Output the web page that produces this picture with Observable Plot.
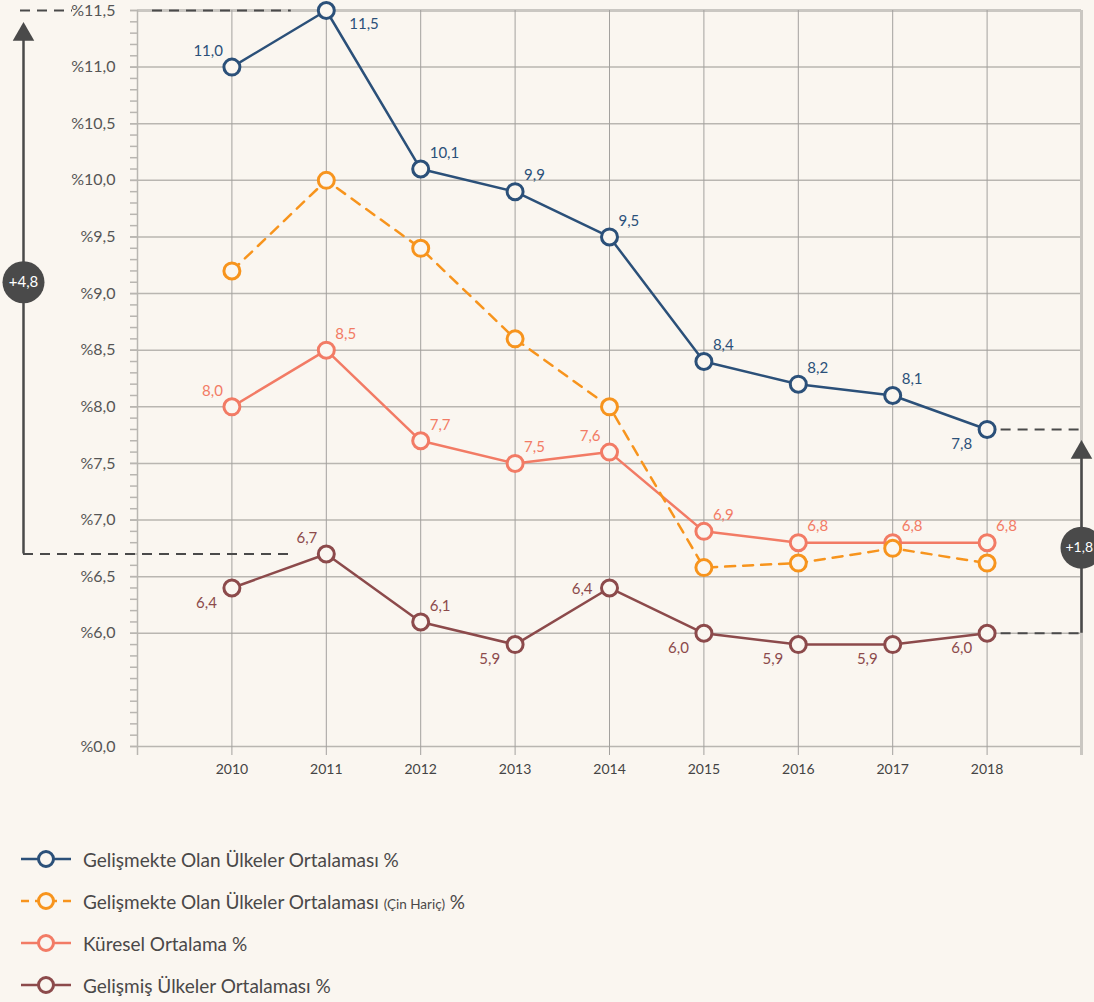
<!DOCTYPE html>
<html>
<head>
<meta charset="utf-8">
<script src="https://cdn.jsdelivr.net/npm/d3@7"></script>
<script src="https://cdn.jsdelivr.net/npm/@observablehq/plot@0.6"></script>
<style>
  html, body { margin: 0; padding: 0; background: #faf6f0; }
  body { width: 1094px; height: 1002px; overflow: hidden; font-family: Lato, "Open Sans", sans-serif; }
  #chart svg { display: block; background: #faf6f0; }
  #legend { margin-top: 48px; }
  .item { height: 42px; display: flex; align-items: center; }
  .item svg { margin-left: 20px; margin-right: 11px; flex: none; }
  .item span { font-size: 19px; color: #4a4848; }
  .item small { font-size: 13.5px; }
</style>
</head>
<body>
<div id="chart"></div>
<div id="legend"></div>
<script>
const years = [2010, 2011, 2012, 2013, 2014, 2015, 2016, 2017, 2018];
const developing        = [11.0, 11.5, 10.1, 9.9, 9.5, 8.4, 8.2, 8.1, 7.8];
const developingExChina = [9.2, 10.0, 9.4, 8.6, 8.0, 6.58, 6.62, 6.75, 6.62];
const globalAvg         = [8.0, 8.5, 7.7, 7.5, 7.6, 6.9, 6.8, 6.8, 6.8];
const developed         = [6.4, 6.7, 6.1, 5.9, 6.4, 6.0, 5.9, 5.9, 6.0];

const seriesNames = [
  "Gelişmekte Olan Ülkeler Ortalaması %",
  "Gelişmekte Olan Ülkeler Ortalaması (Çin Hariç) %",
  "Küresel Ortalama %",
  "Gelişmiş Ülkeler Ortalaması %"
];
const seriesColors = ["#2b5079", "#f7941d", "#f27b65", "#8c4a4b"];

// label placement per point (null = no label)
const developingLabelPos = ["tl", "br", "tr", "tr", "tr", "tr", "tr", "tr", "bl"];
const exChinaLabelPos    = [null, null, null, null, null, null, null, null, null];
const globalLabelPos     = ["tl", "tr", "tr", "tr", "tl", "tr", "tr", "tr", "tr"];
const developedLabelPos  = ["bl", "tl", "tr", "bl", "l", "bl", "bl", "bl", "bl"];

const yMajorTicks = [5, 6, 6.5, 7, 7.5, 8, 8.5, 9, 9.5, 10, 10.5, 11, 11.5];
const yMinorTicks = d3.range(50, 116).map(i => i / 10);
const axisBreakLabel = "%0,0";

const bg = "#faf6f0";
const fmt = v => v.toFixed(1).replace(".", ",");

const allValues = [developing, developingExChina, globalAvg, developed];
const allPos = [developingLabelPos, exChinaLabelPos, globalLabelPos, developedLabelPos];
const rows = [];
allValues.forEach((vals, si) => {
  vals.forEach((v, i) => rows.push({year: years[i], value: v, series: si, pos: allPos[si][i]}));
});

const posStyle = {
  tr: {dx: 9, dy: -16, textAnchor: "start"},
  tl: {dx: -9, dy: -16, textAnchor: "end"},
  bl: {dx: -15, dy: 15, textAnchor: "end"},
  br: {dx: 23, dy: 14, textAnchor: "start"},
  l:  {dx: -17, dy: 1, textAnchor: "end"}
};

// annotations derived from data
const leftLo = developed[1], leftHi = developing[1];
const rightLo = developed[8], rightHi = developing[8];
const annColor = "#4a4a4a";
const leftMid = (leftLo + leftHi) / 2;
const rightMid = rightLo + (rightHi - rightLo) * 0.42;
const dashed = {stroke: annColor, strokeWidth: 2, strokeDasharray: "10,7"};

const marks = [
  // horizontal grid
  Plot.ruleY(yMajorTicks.filter(t => t < 11.5), {x1: 2009, x2: 2019, stroke: "#b9b6b1", strokeWidth: 1.5}),
  Plot.ruleY([11.5], {x1: 2009, x2: 2019, stroke: "#cac7c2", strokeWidth: 3}),
  // vertical grid
  Plot.ruleX(years, {y1: 11.5, y2: 5, stroke: "#a3a19e", strokeWidth: 1, insetBottom: -9}),
  Plot.ruleX([2009], {y1: 11.5, y2: 5, stroke: "#b9b6b1", strokeWidth: 1.5, insetBottom: -9}),
  Plot.ruleX([2019], {y1: 11.5, y2: 5, stroke: "#cac7c2", strokeWidth: 3, insetBottom: -9}),
  // axes
  Plot.axisY({ticks: yMinorTicks, label: null, tickSize: 7, tickFormat: () => "", stroke: "#b9b6b1", strokeWidth: 1.5}),
  Plot.axisY({ticks: yMajorTicks, label: null, tickSize: 7, tickPadding: 15, stroke: "#b9b6b1", strokeWidth: 1.5,
    tickFormat: d => d === 5 ? axisBreakLabel : "%" + fmt(d), fontSize: 16, fill: "#555"}),
  Plot.axisX({ticks: years, label: null, tickSize: 0, tickPadding: 18, tickFormat: d => String(d), fontSize: 14, fill: "#444"}),

  // left annotation
  Plot.ruleY([leftHi], {x1: 2009, x2: 2009, insetLeft: -117, insetRight: 65, ...dashed}),
  Plot.ruleY([leftHi], {x1: 2009, x2: 2011, insetLeft: 15, insetRight: 35, ...dashed}),
  Plot.ruleY([leftLo], {x1: 2009, x2: 2011, insetLeft: -114, insetRight: 35, ...dashed}),
  Plot.ruleX([2009], {y1: leftHi, y2: leftLo, insetTop: 28, dx: -114, stroke: annColor, strokeWidth: 2.5}),
  Plot.dot([leftHi], {x: () => 2009, y: d => d, dx: -114, dy: 24, symbol: "triangle", r: 8, fill: annColor, stroke: "none"}),
  Plot.dot([leftMid], {x: () => 2009, y: d => d, dx: -114, r: 21, fill: annColor, stroke: "none"}),
  Plot.text([leftMid], {x: () => 2009, y: d => d, dx: -114, text: () => "+" + fmt(leftHi - leftLo), fill: "#fff", fontSize: 15}),

  // right annotation
  Plot.ruleY([rightHi], {x1: 2018, x2: 2019, insetLeft: 14, ...dashed}),
  Plot.ruleY([rightLo], {x1: 2018, x2: 2019, insetLeft: 14, ...dashed}),
  Plot.ruleX([2019], {y1: rightHi, y2: rightLo, insetTop: 28, stroke: annColor, strokeWidth: 2.5}),
  Plot.dot([rightHi], {x: () => 2019, y: d => d, dy: 23, symbol: "triangle", r: 8, fill: annColor, stroke: "none"}),
  Plot.dot([rightMid], {x: () => 2019, y: d => d, r: 21, fill: annColor, stroke: "none"}),
  Plot.text([rightMid], {x: () => 2019, y: d => d, dx: -16, text: () => "+" + fmt(rightHi - rightLo), fill: "#fff", fontSize: 14, textAnchor: "start"}),
];

// lines
[3, 2, 1, 0].forEach(si => {
  marks.push(Plot.line(rows.filter(r => r.series === si), {
    x: "year", y: "value", stroke: seriesColors[si], strokeWidth: 2.5,
    strokeDasharray: si === 1 ? "10,8" : null
  }));
});
[3, 2, 1, 0].forEach(si => {
  marks.push(Plot.dot(rows.filter(r => r.series === si), {
    x: "year", y: "value", r: 8, stroke: seriesColors[si], strokeWidth: 3, fill: bg
  }));
});
// labels
Object.entries(posStyle).forEach(([p, st]) => {
  marks.push(Plot.text(rows.filter(r => r.pos === p), {
    x: "year", y: "value", text: d => fmt(d.value), fill: d => seriesColors[d.series],
    fontSize: 15, ...st
  }));
});

const chart = Plot.plot({
  width: 1094,
  height: 790,
  marginTop: 10,
  marginBottom: 44,
  marginLeft: 137,
  marginRight: 13,
  style: {background: bg, fontFamily: "Lato, 'Open Sans', sans-serif"},
  x: {type: "linear", domain: [2009, 2019], axis: null},
  y: {domain: [5, 11.5], axis: null},
  marks
});
document.getElementById("chart").appendChild(chart);

// legend
const legend = document.getElementById("legend");
seriesNames.forEach((name, si) => {
  const item = document.createElement("div");
  item.className = "item";
  const dash = si === 1 ? ' stroke-dasharray="8,6"' : "";
  item.innerHTML = `<svg width="52" height="22"><line x1="1" x2="51" y1="11" y2="11" stroke="${seriesColors[si]}" stroke-width="2.5"${dash}/>` +
    `<circle cx="26" cy="11" r="7.5" fill="${bg}" stroke="${seriesColors[si]}" stroke-width="3"/></svg>`;
  const span = document.createElement("span");
  if (si === 1) {
    span.innerHTML = "Gelişmekte Olan Ülkeler Ortalaması <small>(Çin Hariç)</small> %";
  } else {
    span.textContent = name;
  }
  item.appendChild(span);
  legend.appendChild(item);
});
</script>
</body>
</html>
